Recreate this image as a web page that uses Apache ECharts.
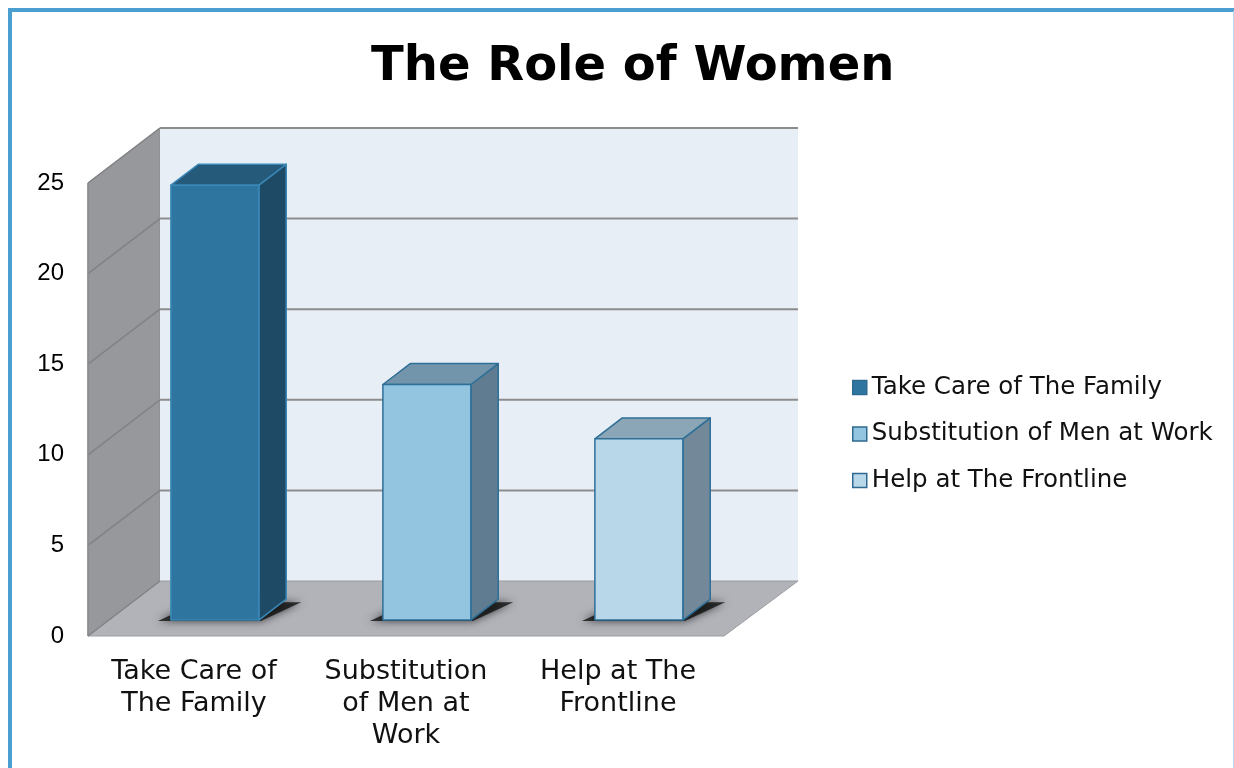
<!DOCTYPE html>
<html>
<head>
<meta charset="utf-8">
<title>The Role of Women</title>
<script src="https://cdn.jsdelivr.net/npm/echarts@6/dist/echarts.min.js"></script>
<style>
  html, body { margin: 0; padding: 0; background: #fff; }
  #main { position: absolute; left: 0; top: 0; width: 1234px; height: 768px; }
  #frame {
    position: absolute; left: 8px; top: 8px; width: 1221px; height: 770px;
    border-left: 4px solid #4b9fd0; border-top: 4px solid #4b9fd0; border-right: 2px solid #b9d9ec;
    pointer-events: none;
  }
</style>
</head>
<body>
<div id="main"></div>
<div id="frame"></div>
<script>
// data
var categories = ['Take Care of The Family', 'Substitution of Men at Work', 'Help at The Frontline'];
var tickLabels = ['Take Care of\nThe Family', 'Substitution\nof Men at\nWork', 'Help at The\nFrontline'];
var values = [24, 13, 10];
var yTicks = [0, 5, 10, 15, 20, 25];

// colours of each bar: front, top, side
var faceColors = [
    {front: '#2e75a0', top: '#255a7a', side: '#1f4a66', line: '#3a88b8'},
    {front: '#93c4e0', top: '#7395ab', side: '#5f7c91', line: '#2e6f98'},
    {front: '#b8d8ea', top: '#8ba6b6', side: '#73899a', line: '#2e6f98'}
];

// depth of the box (pixels), and where bars sit inside it
var DX = 72, DY = -55;
var F0 = 0.29, F1 = 0.67;

var myChart = echarts.init(document.getElementById('main'));

// walls, floor and grid lines
function renderFrame(params, api) {
    var cs = params.coordSys;
    var x0 = cs.x, x1 = cs.x + cs.width;
    var yb = api.coord([0, 0])[1];
    var yt = api.coord([0, 25])[1];
    var children = [];
    // left wall
    children.push({type: 'polygon', shape: {points: [[x0, yt], [x0 + DX, yt + DY], [x0 + DX, yb + DY], [x0, yb]]},
        style: {fill: '#96989c', stroke: '#8a8c90', lineWidth: 1}});
    // back wall
    children.push({type: 'rect', shape: {x: x0 + DX, y: yt + DY, width: x1 - x0 + 2, height: yb - yt},
        style: {fill: '#e8eef6'}});
    // floor
    children.push({type: 'polygon', shape: {points: [[x0, yb], [x0 + DX, yb + DY], [x1 + DX + 2, yb + DY], [x1, yb]]},
        style: {fill: '#b1b3b9', stroke: '#9a9ca1', lineWidth: 1}});
    for (var i = 0; i < yTicks.length; i++) {
        var y = api.coord([0, yTicks[i]])[1];
        if (yTicks[i] > 0) {
            children.push({type: 'line', shape: {x1: x0 + DX, y1: y + DY, x2: x1 + DX + 2, y2: y + DY},
                style: {stroke: '#8c8c8c', lineWidth: 2}});
        }
        children.push({type: 'line', shape: {x1: x0, y1: y, x2: x0 + DX, y2: y + DY},
            style: {stroke: '#808286', lineWidth: 1.5}});
    }
    // front edge of left wall
    children.push({type: 'line', shape: {x1: x0, y1: yt, x2: x0, y2: yb},
        style: {stroke: '#8a8c90', lineWidth: 1.5}});
    return {type: 'group', children: children};
}

function renderBar(params, api) {
    var idx = api.value(0);
    var c = faceColors[idx];
    var top = api.coord([idx, api.value(1)]);
    var base = api.coord([idx, 0]);
    var bw = api.size([1, 0])[0] * 0.415;
    var ox = DX * F0, oy = DY * F0;
    var dx = DX * (F1 - F0), dy = DY * (F1 - F0);
    var l = top[0] - bw / 2 + ox, r = top[0] + bw / 2 + ox;
    var t = top[1] + oy, b = base[1] + oy;
    var line = {stroke: c.line, lineWidth: 1.5, lineJoin: 'round'};
    return {type: 'group', children: [
        // shadow on the floor
        {type: 'polygon', shape: {points: [[l - 13, b + 1], [r + 2, b + 1], [r + dx + 15, b + dy + 3], [l + dx, b + dy + 3]]},
            style: {fill: 'rgba(10,10,10,0.75)', shadowBlur: 8, shadowColor: 'rgba(0,0,0,0.9)'}},
        {type: 'polygon', shape: {points: [[r, t], [r + dx, t + dy], [r + dx, b + dy], [r, b]]},
            style: Object.assign({fill: c.side}, line)},
        {type: 'polygon', shape: {points: [[l, t], [r, t], [r + dx, t + dy], [l + dx, t + dy]]},
            style: Object.assign({fill: c.top}, line)},
        {type: 'rect', shape: {x: l, y: t, width: r - l, height: b - t},
            style: Object.assign({fill: c.front}, line)}
    ]};
}

var option = {
    animation: false,
    title: {
        text: 'The Role of Women',
        left: 366,
        top: 39,
        textStyle: {fontFamily: 'DejaVu Sans', fontWeight: 'bold', fontSize: 48, color: '#000'}
    },
    legend: {
        orient: 'vertical',
        left: 847,
        top: 370,
        itemWidth: 14,
        itemHeight: 14,
        itemGap: 21.5,
        icon: 'rect',
        data: categories,
        itemStyle: {borderColor: '#2e6a90', borderWidth: 1.5},
        textStyle: {fontFamily: 'DejaVu Sans', fontSize: 24.5, color: '#111', lineHeight: 24}
    },
    grid: {left: 88, right: 510, top: 183, bottom: 132},
    xAxis: {
        type: 'category',
        data: categories,
        axisLine: {show: false},
        axisTick: {show: false},
        axisLabel: {
            interval: 0,
            hideOverlap: false,
            margin: 20,
            fontFamily: 'DejaVu Sans',
            fontSize: 27,
            lineHeight: 32,
            color: '#111',
            formatter: function (v, i) { return tickLabels[i]; }
        }
    },
    yAxis: {
        type: 'value',
        min: 0,
        max: 25,
        interval: 5,
        axisLine: {show: false},
        axisTick: {show: false},
        splitLine: {show: false},
        axisLabel: {margin: 24, fontFamily: 'Liberation Sans', fontSize: 24, color: '#000'}
    },
    series: [
        {type: 'custom', name: 'frame', z: 1, silent: true, renderItem: renderFrame, data: [[0, 0]]}
    ]
};

for (var m = 0; m < categories.length; m++) {
    option.series.push({
        type: 'custom',
        name: categories[m],
        z: 2,
        renderItem: renderBar,
        itemStyle: {color: faceColors[m].front},
        encode: {x: 0, y: 1},
        data: [[m, values[m]]]
    });
}

myChart.setOption(option);
</script>
</body>
</html>
